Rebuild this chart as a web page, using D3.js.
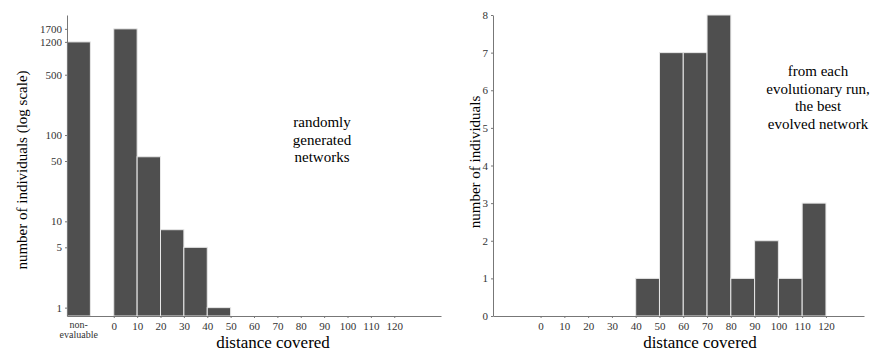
<!DOCTYPE html>
<meta charset="utf-8">
<style>
    body { margin: 0; background: #fff; }
    .tick text { fill: #333; }
    .domain, .tick line { stroke: #777; }
    .bar { fill: #4f4f4f; stroke: #e8e8e8; stroke-width: 1; }
</style>
<body>
<svg id="chart" width="876" height="352"></svg>
<script src="https://cdn.jsdelivr.net/npm/d3@7"></script>
<script>
    var serif = "'Liberation Serif', 'Times New Roman', 'DejaVu Serif', serif";

    // bins of 10, starting at 0; the "non-evaluable" bar sits left of 0
    var binStarts = [0, 10, 20, 30, 40, 50, 60, 70, 80, 90, 100, 110];
    var xTickValues = [0, 10, 20, 30, 40, 50, 60, 70, 80, 90, 100, 110, 120];

    // left: randomly generated networks (log scale)
    var randomNonEval = 1200;
    var randomCounts = [1700, 56, 8, 5, 1, 0, 0, 0, 0, 0, 0, 0];
    var randomYTicks = [1, 5, 10, 50, 100, 500, 1200, 1700];

    // right: best evolved network of each run
    var evolvedNonEval = 0;
    var evolvedCounts = [0, 0, 0, 0, 1, 7, 7, 8, 1, 2, 1, 3];
    var evolvedYTicks = [0, 1, 2, 3, 4, 5, 6, 7, 8];

    var svg = d3.select("#chart").attr("font-family", serif);

    function drawPanel(opt) {
        var g = svg.append("g");
        var x = d3.scaleLinear().domain([-20, opt.xMax]).range(opt.xRange);
        var y = opt.y;
        var base = y.range()[0];

        var bars = [{x0: -20, x1: -10, v: opt.nonEval}];
        binStarts.forEach(function(s, i) {
            bars.push({x0: s, x1: s + 10, v: opt.counts[i]});
        });
        bars = bars.filter(function(d) { return d.v > 0; });

        g.selectAll("rect.bar")
            .data(bars)
            .enter().append("rect")
            .attr("class", "bar")
            .attr("x", function(d) { return x(d.x0); })
            .attr("width", function(d) { return x(d.x1) - x(d.x0); })
            .attr("y", function(d) { return y(d.v); })
            .attr("height", function(d) { return base - y(d.v); });

        // x axis
        var xAxis = g.append("g")
            .attr("transform", "translate(0," + base + ")")
            .call(d3.axisBottom(x).tickValues(xTickValues).tickSize(2).tickSizeOuter(0));
        xAxis.attr("font-family", serif).attr("font-size", 11);
        xAxis.selectAll(".tick text").attr("dy", "0.8em");

        // y axis
        g.append("g")
            .attr("transform", "translate(" + opt.xRange[0] + ",0)")
            .call(d3.axisLeft(y).tickValues(opt.yTicks).tickFormat(d3.format("d")).tickSize(2).tickSizeOuter(0))
            .attr("font-family", serif).attr("font-size", 11);

        if (opt.showNonEval) {
            var t = g.append("text")
                .attr("x", x(-15))
                .attr("y", base + 12)
                .attr("text-anchor", "middle")
                .style("font-size", "10px")
                .style("fill", "#333");
            t.append("tspan").attr("x", x(-15)).text("non-");
            t.append("tspan").attr("x", x(-15)).attr("dy", 10).text("evaluable");
        }

        g.append("text")
            .attr("x", opt.xLabelX)
            .attr("y", 348)
            .attr("text-anchor", "middle")
            .style("font-size", "17px")
            .text("distance covered");

        g.append("text")
            .attr("transform", "translate(" + opt.yLabelX + "," + opt.yLabelY + ") rotate(-90)")
            .attr("text-anchor", "middle")
            .style("font-size", "15px")
            .text(opt.yLabel);

        var note = g.append("text")
            .attr("text-anchor", "middle")
            .style("font-size", "15px");
        opt.note.forEach(function(line, i) {
            note.append("tspan")
                .attr("x", opt.noteX)
                .attr("y", opt.noteY + i * 17.5)
                .text(line);
        });
    }

    drawPanel({
        xMax: 140,
        xRange: [67, 441],
        y: d3.scaleLog().domain([0.8, 2460]).range([316, 15]),
        counts: randomCounts,
        nonEval: randomNonEval,
        yTicks: randomYTicks,
        showNonEval: true,
        xLabelX: 273,
        yLabelX: 27,
        yLabelY: 170,
        yLabel: "number of individuals (log scale)",
        note: ["randomly", "generated", "networks"],
        noteX: 322,
        noteY: 127
    });

    drawPanel({
        xMax: 136,
        xRange: [493, 864],
        y: d3.scaleLinear().domain([0, 8]).range([316, 15]),
        counts: evolvedCounts,
        nonEval: evolvedNonEval,
        yTicks: evolvedYTicks,
        showNonEval: false,
        xLabelX: 700,
        yLabelX: 480,
        yLabelY: 162,
        yLabel: "number of individuals",
        note: ["from each", "evolutionary run,", "the best", "evolved network"],
        noteX: 818,
        noteY: 76
    });
</script>
</body>
